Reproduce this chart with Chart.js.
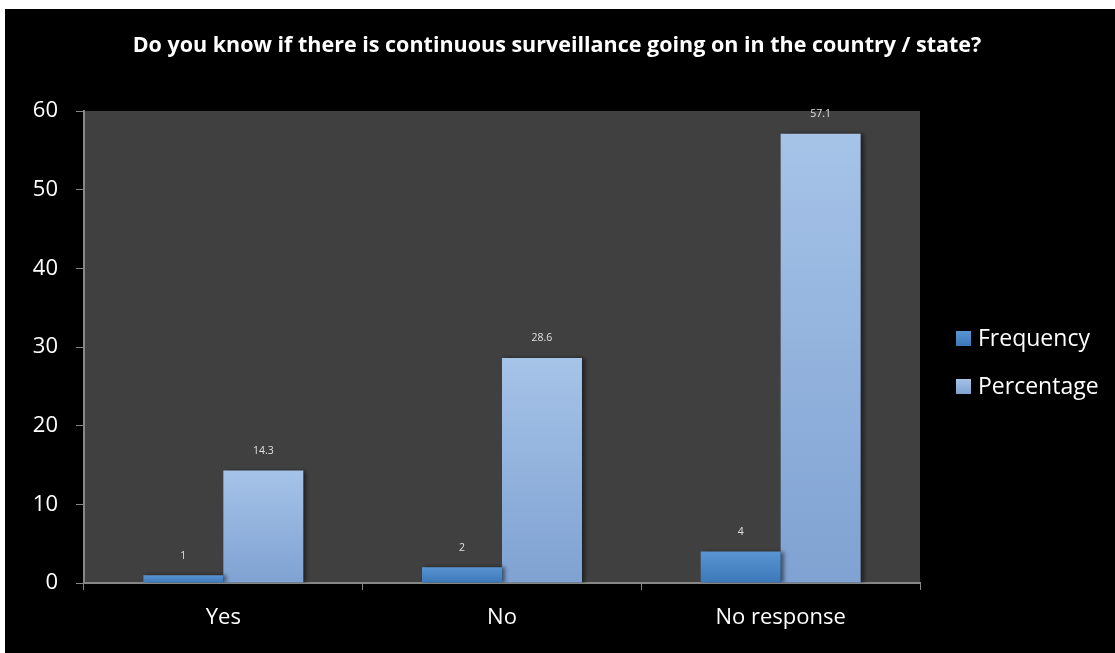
<!DOCTYPE html>
<html>
<head>
<meta charset="utf-8">
<script src="https://cdn.jsdelivr.net/npm/chart.js@4.4.1/dist/chart.umd.min.js"></script>
<style>
  html, body { margin: 0; padding: 0; background: #fff; }
  #wrap { position: absolute; left: 5px; top: 9px; width: 1110px; height: 644px; background: #000; }
</style>
</head>
<body>
<div id="wrap"><canvas id="survChart" width="1110" height="644"></canvas></div>
<script>
const chartTitle = "Do you know if there is continuous surveillance going on in the country / state?";
const categories = ["Yes", "No", "No response"];
const frequency = [1, 2, 4];
const percentage = [14.3, 28.6, 57.1];
const yTicks = [0, 10, 20, 30, 40, 50, 60];

const FONT = "'Open Sans', 'Noto Sans', sans-serif";

// vertical gradient spanning each bar from its top to the zero line
function barGradient(top, bottom) {
  return (ctx) => {
    const chart = ctx.chart;
    if (!chart.chartArea || ctx.type !== "data") return bottom;
    const y = chart.scales.y;
    const g = chart.ctx.createLinearGradient(0, y.getPixelForValue(ctx.raw), 0, y.getPixelForValue(0));
    g.addColorStop(0, top);
    g.addColorStop(1, bottom);
    return g;
  };
}

const seriesColors = [
  ["#5a94d2", "#3b78b8"],
  ["#a6c3e8", "#7fa2d2"]
];

const decorPlugin = {
  id: "decor",
  beforeDraw(chart) {
    const { ctx, chartArea: a } = chart;
    ctx.save();
    ctx.fillStyle = "#404040";
    ctx.fillRect(a.left, a.top, a.right - a.left, a.bottom - a.top);
    ctx.restore();
  },
  beforeDatasetDraw(chart) {
    const ctx = chart.ctx;
    ctx.save();
    ctx.shadowColor = "rgba(0,0,0,0.5)";
    ctx.shadowBlur = 4;
    ctx.shadowOffsetX = 3;
    ctx.shadowOffsetY = 0;
  },
  afterDatasetDraw(chart) {
    chart.ctx.restore();
  },
  afterDatasetsDraw(chart) {
    const ctx = chart.ctx;
    ctx.save();
    ctx.fillStyle = "#e0e0e0";
    ctx.font = "10.5px " + FONT;
    ctx.textAlign = "center";
    ctx.textBaseline = "middle";
    chart.data.datasets.forEach((ds, i) => {
      chart.getDatasetMeta(i).data.forEach((bar, j) => {
        ctx.fillText(String(ds.data[j]), bar.x, bar.y - 19.5);
      });
    });
    ctx.restore();
  },
  afterDraw(chart) {
    const ctx = chart.ctx;
    ctx.save();
    // title
    ctx.fillStyle = "#ffffff";
    ctx.font = "bold 21.5px " + FONT;
    ctx.textAlign = "center";
    ctx.textBaseline = "middle";
    ctx.fillText(chartTitle, chart.width / 2 - 3, 37);
    // legend
    ctx.font = "23px " + FONT;
    ctx.textAlign = "left";
    chart.data.datasets.forEach((ds, i) => {
      const top = 322 + i * 48;
      const g = ctx.createLinearGradient(0, top, 0, top + 15);
      g.addColorStop(0, seriesColors[i][0]);
      g.addColorStop(1, seriesColors[i][1]);
      ctx.fillStyle = g;
      ctx.fillRect(951, top, 15, 15);
      ctx.fillStyle = "#ffffff";
      ctx.fillText(ds.label, 973, top + 8);
    });
    ctx.restore();
  }
};

new Chart(document.getElementById("survChart"), {
  type: "bar",
  data: {
    labels: categories,
    datasets: [
      { label: "Frequency", data: frequency, backgroundColor: barGradient(...seriesColors[0]) },
      { label: "Percentage", data: percentage, backgroundColor: barGradient(...seriesColors[1]) }
    ]
  },
  options: {
    responsive: false,
    animation: false,
    layout: { padding: { top: 102, right: 195, bottom: 0, left: 0 } },
    datasets: { bar: { barPercentage: 1, categoryPercentage: 0.574, borderWidth: 0 } },
    plugins: { legend: { display: false }, title: { display: false }, tooltip: { enabled: false } },
    scales: {
      x: {
        grid: { display: true, drawOnChartArea: false, drawTicks: true, tickLength: 7, color: "#868686", offset: true },
        border: { display: true, color: "#868686", width: 2 },
        ticks: { color: "#ffffff", font: { family: FONT, size: 22 }, padding: 15 },
        afterFit: (s) => { s.height = 70; }
      },
      y: {
        min: 0,
        max: 60,
        afterBuildTicks: (s) => { s.ticks = yTicks.map((v) => ({ value: v })); },
        grid: { display: true, drawOnChartArea: false, drawTicks: true, tickLength: 8, color: "#868686" },
        border: { display: true, color: "#868686", width: 2 },
        ticks: { color: "#ffffff", font: { family: FONT, size: 22 }, padding: 18 },
        afterFit: (s) => { s.width = 79; }
      }
    }
  },
  plugins: [decorPlugin]
});
</script>
</body>
</html>
